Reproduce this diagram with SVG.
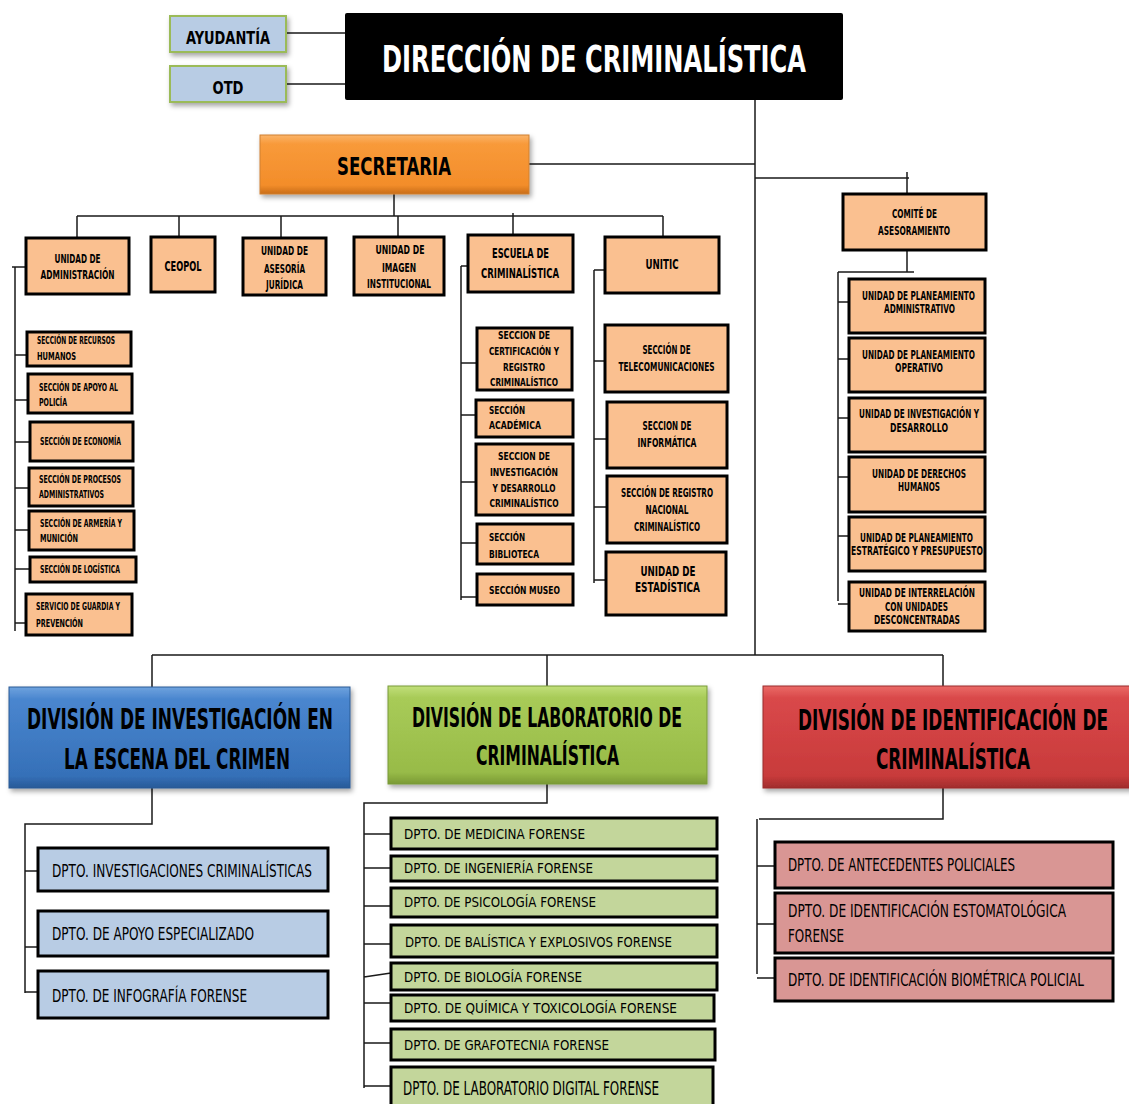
<svg xmlns="http://www.w3.org/2000/svg" width="1129" height="1104" viewBox="0 0 1129 1104">
<defs>
<style>
text{font-family:"Liberation Sans Narrow","DejaVu Sans Condensed","Liberation Sans",sans-serif;fill:#000;lengthAdjust:spacingAndGlyphs}
.b{font-weight:bold}
.c{text-anchor:middle}
.o{fill:#fac090;stroke:#000;stroke-width:3}
.bl{fill:#b8cce4;stroke:#000;stroke-width:3}
.gr{fill:#c3d69b;stroke:#000;stroke-width:3}
.rd{fill:#d99694;stroke:#000;stroke-width:3}
.ln{stroke:#1a1a1a;stroke-width:1.5;fill:none}
</style>
<filter id="sh" x="-10%" y="-10%" width="125%" height="140%"><feDropShadow dx="2" dy="3" stdDeviation="2.5" flood-color="#000" flood-opacity="0.35"/></filter>
<linearGradient id="gSec" x1="0" y1="0" x2="0" y2="1"><stop offset="0" stop-color="#fbb46a"/><stop offset="0.15" stop-color="#f89a3a"/><stop offset="0.85" stop-color="#f38d2a"/><stop offset="1" stop-color="#c86d18"/></linearGradient>
<linearGradient id="gBlue" x1="0" y1="0" x2="0" y2="1"><stop offset="0" stop-color="#6fa3de"/><stop offset="0.12" stop-color="#4a86cf"/><stop offset="0.88" stop-color="#3570b8"/><stop offset="1" stop-color="#275a98"/></linearGradient>
<linearGradient id="gGreen" x1="0" y1="0" x2="0" y2="1"><stop offset="0" stop-color="#c1df7a"/><stop offset="0.12" stop-color="#a8cb58"/><stop offset="0.88" stop-color="#98bb48"/><stop offset="1" stop-color="#7a9a35"/></linearGradient>
<linearGradient id="gRed" x1="0" y1="0" x2="0" y2="1"><stop offset="0" stop-color="#ea6a66"/><stop offset="0.12" stop-color="#d9484a"/><stop offset="0.88" stop-color="#c83b3b"/><stop offset="1" stop-color="#a02c2c"/></linearGradient>
</defs>
<rect width="1129" height="1104" fill="#fff"/>

<g id="connectors">
<path class="ln" d="M286 33H345M286 84H345M755 100V655M529 164H755M755 178H909M907 172V194M907 250V272M838 272H914M838 272V601M838 302H849M838 359H849M838 418H849M838 477H849M838 536H849M838 604H849"/>
<path class="ln" d="M394 194V216M77 216H663M77 216V238M179 216V237M281 216V238M398 216V237M513 213V235M663 216V237"/>
<path class="ln" d="M12 267H26M15 267V631M15 355H27M15 400H28M15 442H30M15 488H29M15 530H29M15 569H30M15 623H26"/>
<path class="ln" d="M461 266H468M461 266V600M461 363H477M461 415H476M461 482H476M461 543H477M461 597H477"/>
<path class="ln" d="M594 270H605M594 270V583M594 361H605M594 439H607M594 507H607M594 580H606"/>
<path class="ln" d="M152 655H943M152 655V687M547 655V686M943 655V686"/>
<path class="ln" d="M152 788V824H25V993M25 871H38M25 947H38M25 992H38"/>
<path class="ln" d="M547 784V803H364V1088M364 834H391M364 868H391M364 906H391M364 944H391M364 977L391 973M364 1003H391M364 1043H391M364 1086H391"/>
<path class="ln" d="M943 788V819H759M757 819V974M757 866H775M757 924H775M757 978H775"/>
</g>

<g id="ayudantia"><rect x="170" y="16" width="116" height="36" fill="#b8cce4" stroke="#9bbb59" stroke-width="2" filter="url(#sh)"/><text class="b c" x="228" y="44" font-size="17" textLength="84" lengthAdjust="spacingAndGlyphs">AYUDANTÍA</text></g>
<g id="otd"><rect x="170" y="66" width="116" height="36" fill="#b8cce4" stroke="#9bbb59" stroke-width="2" filter="url(#sh)"/><text class="b c" x="228" y="94" font-size="17" textLength="31" lengthAdjust="spacingAndGlyphs">OTD</text></g>
<g id="direccion"><rect x="345" y="13" width="498" height="87" rx="2" fill="#000"/><text class="b c" x="594" y="72" font-size="38" fill="#fff" style="fill:#fff" textLength="424" lengthAdjust="spacingAndGlyphs">DIRECCIÓN DE CRIMINALÍSTICA</text></g>
<g id="secretaria"><rect x="260" y="135" width="269" height="59" fill="url(#gSec)" stroke="#d08030" stroke-width="1" filter="url(#sh)"/><text class="b c" x="394" y="175" font-size="25" textLength="114" lengthAdjust="spacingAndGlyphs">SECRETARIA</text></g>

<g id="unidad-administracion"><rect class="o" x="26" y="238" width="103" height="56"/><text class="b c" x="77.5" y="263" font-size="12.5" textLength="46" lengthAdjust="spacingAndGlyphs">UNIDAD DE</text><text class="b c" x="77.5" y="279" font-size="12.5" textLength="74" lengthAdjust="spacingAndGlyphs">ADMINISTRACIÓN</text></g>
<g id="ceopol"><rect class="o" x="151" y="237" width="64" height="55"/><text class="b c" x="183" y="271" font-size="14" textLength="37" lengthAdjust="spacingAndGlyphs">CEOPOL</text></g>
<g id="asesoria"><rect class="o" x="243" y="238" width="83" height="57"/><text class="b c" x="284.5" y="255" font-size="12" textLength="47" lengthAdjust="spacingAndGlyphs">UNIDAD DE</text><text class="b c" x="284.5" y="273" font-size="12" textLength="41" lengthAdjust="spacingAndGlyphs">ASESORÍA</text><text class="b c" x="284.5" y="289" font-size="12" textLength="37" lengthAdjust="spacingAndGlyphs">JURÍDICA</text></g>
<g id="imagen"><rect class="o" x="354" y="237" width="90" height="58"/><text class="b c" x="400" y="254" font-size="12" textLength="49" lengthAdjust="spacingAndGlyphs">UNIDAD DE</text><text class="b c" x="399" y="272" font-size="12" textLength="34" lengthAdjust="spacingAndGlyphs">IMAGEN</text><text class="b c" x="399" y="288" font-size="12" textLength="64" lengthAdjust="spacingAndGlyphs">INSTITUCIONAL</text></g>
<g id="escuela"><rect class="o" x="468" y="235" width="105" height="57"/><text class="b c" x="520.5" y="258" font-size="14" textLength="57" lengthAdjust="spacingAndGlyphs">ESCUELA DE</text><text class="b c" x="520" y="278" font-size="14" textLength="78" lengthAdjust="spacingAndGlyphs">CRIMINALÍSTICA</text></g>
<g id="unitic"><rect class="o" x="605" y="237" width="114" height="56"/><text class="b c" x="662" y="269" font-size="14" textLength="33" lengthAdjust="spacingAndGlyphs">UNITIC</text></g>

<g id="sec-rrhh"><rect class="o" x="27" y="332" width="104" height="34"/><text class="b" x="37" y="344" font-size="10.5" textLength="78" lengthAdjust="spacingAndGlyphs">SECCIÓN DE RECURSOS</text><text class="b" x="37" y="360" font-size="10.5" textLength="39" lengthAdjust="spacingAndGlyphs">HUMANOS</text></g>
<g id="sec-apoyo"><rect class="o" x="28" y="374" width="104" height="39"/><text class="b" x="39" y="391" font-size="10.5" textLength="79" lengthAdjust="spacingAndGlyphs">SECCIÓN DE APOYO AL</text><text class="b" x="39" y="406" font-size="10.5" textLength="28" lengthAdjust="spacingAndGlyphs">POLICÍA</text></g>
<g id="sec-economia"><rect class="o" x="30" y="422" width="103" height="39"/><text class="b" x="40" y="445" font-size="10.5" textLength="81" lengthAdjust="spacingAndGlyphs">SECCIÓN DE ECONOMÍA</text></g>
<g id="sec-procesos"><rect class="o" x="29" y="468" width="104" height="38"/><text class="b" x="39" y="483" font-size="10.5" textLength="82" lengthAdjust="spacingAndGlyphs">SECCIÓN DE PROCESOS</text><text class="b" x="39" y="498" font-size="10.5" textLength="65" lengthAdjust="spacingAndGlyphs">ADMINISTRATIVOS</text></g>
<g id="sec-armeria"><rect class="o" x="29" y="511" width="105" height="39"/><text class="b" x="40" y="527" font-size="10.5" textLength="82" lengthAdjust="spacingAndGlyphs">SECCIÓN DE ARMERÍA Y</text><text class="b" x="40" y="542" font-size="10.5" textLength="38" lengthAdjust="spacingAndGlyphs">MUNICIÓN</text></g>
<g id="sec-logistica"><rect class="o" x="30" y="557" width="106" height="25"/><text class="b" x="40" y="573" font-size="10.5" textLength="80" lengthAdjust="spacingAndGlyphs">SECCIÓN DE LOGÍSTICA</text></g>
<g id="sec-guardia"><rect class="o" x="26" y="594" width="106" height="41"/><text class="b" x="36" y="610" font-size="10.5" textLength="84" lengthAdjust="spacingAndGlyphs">SERVICIO DE GUARDIA Y</text><text class="b" x="36" y="627" font-size="10.5" textLength="47" lengthAdjust="spacingAndGlyphs">PREVENCIÓN</text></g>

<g id="sec-certificacion"><rect class="o" x="477" y="328" width="95" height="62"/><text class="b c" x="524" y="339" font-size="11" textLength="52" lengthAdjust="spacingAndGlyphs">SECCION DE</text><text class="b c" x="524" y="355" font-size="11" textLength="70" lengthAdjust="spacingAndGlyphs">CERTIFICACIÓN Y</text><text class="b c" x="524" y="371" font-size="11" textLength="42" lengthAdjust="spacingAndGlyphs">REGISTRO</text><text class="b c" x="524" y="386" font-size="11" textLength="68" lengthAdjust="spacingAndGlyphs">CRIMINALÍSTICO</text></g>
<g id="sec-academica"><rect class="o" x="476" y="400" width="97" height="37"/><text class="b" x="489" y="414" font-size="11" textLength="36" lengthAdjust="spacingAndGlyphs">SECCIÓN</text><text class="b" x="489" y="429" font-size="11" textLength="52" lengthAdjust="spacingAndGlyphs">ACADÉMICA</text></g>
<g id="sec-investigacion"><rect class="o" x="476" y="444" width="97" height="71"/><text class="b c" x="524" y="460" font-size="11" textLength="52" lengthAdjust="spacingAndGlyphs">SECCION DE</text><text class="b c" x="524" y="476" font-size="11" textLength="68" lengthAdjust="spacingAndGlyphs">INVESTIGACIÓN</text><text class="b c" x="524" y="492" font-size="11" textLength="63" lengthAdjust="spacingAndGlyphs">Y DESARROLLO</text><text class="b c" x="524" y="507" font-size="11" textLength="69" lengthAdjust="spacingAndGlyphs">CRIMINALÍSTICO</text></g>
<g id="sec-biblioteca"><rect class="o" x="477" y="524" width="96" height="40"/><text class="b" x="489" y="541" font-size="11" textLength="36" lengthAdjust="spacingAndGlyphs">SECCIÓN</text><text class="b" x="489" y="558" font-size="11" textLength="50" lengthAdjust="spacingAndGlyphs">BIBLIOTECA</text></g>
<g id="sec-museo"><rect class="o" x="477" y="574" width="96" height="31"/><text class="b" x="489" y="594" font-size="11" textLength="71" lengthAdjust="spacingAndGlyphs">SECCIÓN MUSEO</text></g>

<g id="sec-telecom"><rect class="o" x="605" y="325" width="123" height="67"/><text class="b c" x="666.5" y="354" font-size="11.5" textLength="48" lengthAdjust="spacingAndGlyphs">SECCIÓN DE</text><text class="b c" x="666.5" y="371" font-size="11.5" textLength="96" lengthAdjust="spacingAndGlyphs">TELECOMUNICACIONES</text></g>
<g id="sec-informatica"><rect class="o" x="607" y="402" width="120" height="66"/><text class="b c" x="667" y="430" font-size="11.5" textLength="49" lengthAdjust="spacingAndGlyphs">SECCION DE</text><text class="b c" x="667" y="447" font-size="11.5" textLength="59" lengthAdjust="spacingAndGlyphs">INFORMÁTICA</text></g>
<g id="sec-registro"><rect class="o" x="607" y="476" width="120" height="67"/><text class="b c" x="667" y="497" font-size="11.5" textLength="92" lengthAdjust="spacingAndGlyphs">SECCIÓN DE REGISTRO</text><text class="b c" x="667" y="514" font-size="11.5" textLength="43" lengthAdjust="spacingAndGlyphs">NACIONAL</text><text class="b c" x="667" y="531" font-size="11.5" textLength="66" lengthAdjust="spacingAndGlyphs">CRIMINALÍSTICO</text></g>
<g id="unidad-estadistica"><rect class="o" x="606" y="552" width="120" height="63"/><text class="b c" x="668" y="576" font-size="14" textLength="55" lengthAdjust="spacingAndGlyphs">UNIDAD DE</text><text class="b c" x="667.5" y="592" font-size="14" textLength="65" lengthAdjust="spacingAndGlyphs">ESTADÍSTICA</text></g>

<g id="comite"><rect class="o" x="843" y="194" width="143" height="56"/><text class="b c" x="914.5" y="218" font-size="11.5" textLength="45" lengthAdjust="spacingAndGlyphs">COMITÉ DE</text><text class="b c" x="914" y="235" font-size="11.5" textLength="72" lengthAdjust="spacingAndGlyphs">ASESORAMIENTO</text></g>
<g id="planeamiento-administrativo"><rect class="o" x="849" y="279" width="136" height="54"/><text class="b c" x="918.5" y="300" font-size="11.5" textLength="113" lengthAdjust="spacingAndGlyphs">UNIDAD DE PLANEAMIENTO</text><text class="b c" x="919.5" y="313" font-size="11.5" textLength="71" lengthAdjust="spacingAndGlyphs">ADMINISTRATIVO</text></g>
<g id="planeamiento-operativo"><rect class="o" x="849" y="338" width="136" height="54"/><text class="b c" x="918.5" y="359" font-size="11.5" textLength="113" lengthAdjust="spacingAndGlyphs">UNIDAD DE PLANEAMIENTO</text><text class="b c" x="919" y="372" font-size="11.5" textLength="48" lengthAdjust="spacingAndGlyphs">OPERATIVO</text></g>
<g id="investigacion-desarrollo"><rect class="o" x="849" y="398" width="136" height="54"/><text class="b c" x="919" y="418" font-size="11.5" textLength="120" lengthAdjust="spacingAndGlyphs">UNIDAD DE INVESTIGACIÓN Y</text><text class="b c" x="919" y="432" font-size="11.5" textLength="58" lengthAdjust="spacingAndGlyphs">DESARROLLO</text></g>
<g id="derechos-humanos"><rect class="o" x="849" y="457" width="136" height="55"/><text class="b c" x="919" y="478" font-size="11.5" textLength="94" lengthAdjust="spacingAndGlyphs">UNIDAD DE DERECHOS</text><text class="b c" x="919" y="491" font-size="11.5" textLength="42" lengthAdjust="spacingAndGlyphs">HUMANOS</text></g>
<g id="planeamiento-estrategico"><rect class="o" x="849" y="517" width="136" height="54"/><text class="b c" x="916.5" y="542" font-size="11.5" textLength="113" lengthAdjust="spacingAndGlyphs">UNIDAD DE PLANEAMIENTO</text><text class="b c" x="917" y="555" font-size="11.5" textLength="132" lengthAdjust="spacingAndGlyphs">ESTRATÉGICO Y PRESUPUESTO</text></g>
<g id="interrelacion"><rect class="o" x="849" y="582" width="136" height="49"/><text class="b c" x="917" y="597" font-size="11.5" textLength="116" lengthAdjust="spacingAndGlyphs">UNIDAD DE INTERRELACIÓN</text><text class="b c" x="916.5" y="611" font-size="11.5" textLength="63" lengthAdjust="spacingAndGlyphs">CON UNIDADES</text><text class="b c" x="917" y="624" font-size="11.5" textLength="86" lengthAdjust="spacingAndGlyphs">DESCONCENTRADAS</text></g>

<g id="div-escena"><rect x="9" y="687" width="341" height="101" fill="url(#gBlue)" stroke="#2a5a95" stroke-width="1" filter="url(#sh)"/><text class="b c" x="180" y="729" font-size="28" textLength="306" lengthAdjust="spacingAndGlyphs">DIVISIÓN DE INVESTIGACIÓN EN</text><text class="b c" x="177" y="769" font-size="28" textLength="226" lengthAdjust="spacingAndGlyphs">LA ESCENA DEL CRIMEN</text></g>
<g id="div-laboratorio"><rect x="388" y="686" width="319" height="98" fill="url(#gGreen)" stroke="#789a38" stroke-width="1" filter="url(#sh)"/><text class="b c" x="547" y="727" font-size="26" textLength="270" lengthAdjust="spacingAndGlyphs">DIVISIÓN DE LABORATORIO DE</text><text class="b c" x="547.5" y="765" font-size="26" textLength="143" lengthAdjust="spacingAndGlyphs">CRIMINALÍSTICA</text></g>
<g id="div-identificacion"><rect x="763" y="686" width="380" height="102" fill="url(#gRed)" stroke="#9a2c2c" stroke-width="1" filter="url(#sh)"/><text class="b c" x="953" y="730" font-size="28" textLength="310" lengthAdjust="spacingAndGlyphs">DIVISIÓN DE IDENTIFICACIÓN DE</text><text class="b c" x="953" y="769" font-size="28" textLength="154" lengthAdjust="spacingAndGlyphs">CRIMINALÍSTICA</text></g>

<g id="dpto-investigaciones"><rect class="bl" x="38" y="848" width="290" height="43"/><text x="52" y="877" font-size="18" textLength="260" lengthAdjust="spacingAndGlyphs">DPTO. INVESTIGACIONES CRIMINALÍSTICAS</text></g>
<g id="dpto-apoyo"><rect class="bl" x="38" y="911" width="290" height="45"/><text x="52" y="940" font-size="18" textLength="202" lengthAdjust="spacingAndGlyphs">DPTO. DE APOYO ESPECIALIZADO</text></g>
<g id="dpto-infografia"><rect class="bl" x="38" y="971" width="290" height="47"/><text x="52" y="1002" font-size="18" textLength="195" lengthAdjust="spacingAndGlyphs">DPTO. DE INFOGRAFÍA FORENSE</text></g>

<g id="dpto-medicina"><rect class="gr" x="391" y="818" width="326" height="31"/><text x="404" y="839" font-size="14" textLength="181" lengthAdjust="spacingAndGlyphs">DPTO. DE MEDICINA FORENSE</text></g>
<g id="dpto-ingenieria"><rect class="gr" x="391" y="856" width="326" height="25"/><text x="404" y="873" font-size="14" textLength="189" lengthAdjust="spacingAndGlyphs">DPTO. DE INGENIERÍA FORENSE</text></g>
<g id="dpto-psicologia"><rect class="gr" x="391" y="888" width="326" height="29"/><text x="404" y="907" font-size="14" textLength="192" lengthAdjust="spacingAndGlyphs">DPTO. DE PSICOLOGÍA FORENSE</text></g>
<g id="dpto-balistica"><rect class="gr" x="391" y="925" width="326" height="32"/><text x="405" y="947" font-size="14" textLength="267" lengthAdjust="spacingAndGlyphs">DPTO. DE BALÍSTICA Y EXPLOSIVOS FORENSE</text></g>
<g id="dpto-biologia"><rect class="gr" x="391" y="963" width="326" height="27"/><text x="404" y="982" font-size="14" textLength="178" lengthAdjust="spacingAndGlyphs">DPTO. DE BIOLOGÍA FORENSE</text></g>
<g id="dpto-quimica"><rect class="gr" x="391" y="995" width="323" height="26"/><text x="404" y="1013" font-size="14" textLength="273" lengthAdjust="spacingAndGlyphs">DPTO. DE QUÍMICA Y TOXICOLOGÍA FORENSE</text></g>
<g id="dpto-grafotecnia"><rect class="gr" x="391" y="1029" width="324" height="31"/><text x="404" y="1050" font-size="14" textLength="205" lengthAdjust="spacingAndGlyphs">DPTO. DE GRAFOTECNIA FORENSE</text></g>
<g id="dpto-digital"><rect class="gr" x="391" y="1067" width="322" height="42"/><text x="403" y="1095" font-size="19" textLength="256" lengthAdjust="spacingAndGlyphs">DPTO. DE LABORATORIO DIGITAL FORENSE</text></g>

<g id="dpto-antecedentes"><rect class="rd" x="775" y="842" width="338" height="46"/><text x="788" y="871" font-size="17" textLength="227" lengthAdjust="spacingAndGlyphs">DPTO. DE ANTECEDENTES POLICIALES</text></g>
<g id="dpto-estomatologica"><rect class="rd" x="775" y="893" width="338" height="60"/><text x="788" y="917" font-size="17" textLength="278" lengthAdjust="spacingAndGlyphs">DPTO. DE IDENTIFICACIÓN ESTOMATOLÓGICA</text><text x="788" y="942" font-size="17" textLength="56" lengthAdjust="spacingAndGlyphs">FORENSE</text></g>
<g id="dpto-biometrica"><rect class="rd" x="775" y="958" width="338" height="43"/><text x="788" y="986" font-size="17" textLength="296" lengthAdjust="spacingAndGlyphs">DPTO. DE IDENTIFICACIÓN BIOMÉTRICA POLICIAL</text></g>
</svg>
